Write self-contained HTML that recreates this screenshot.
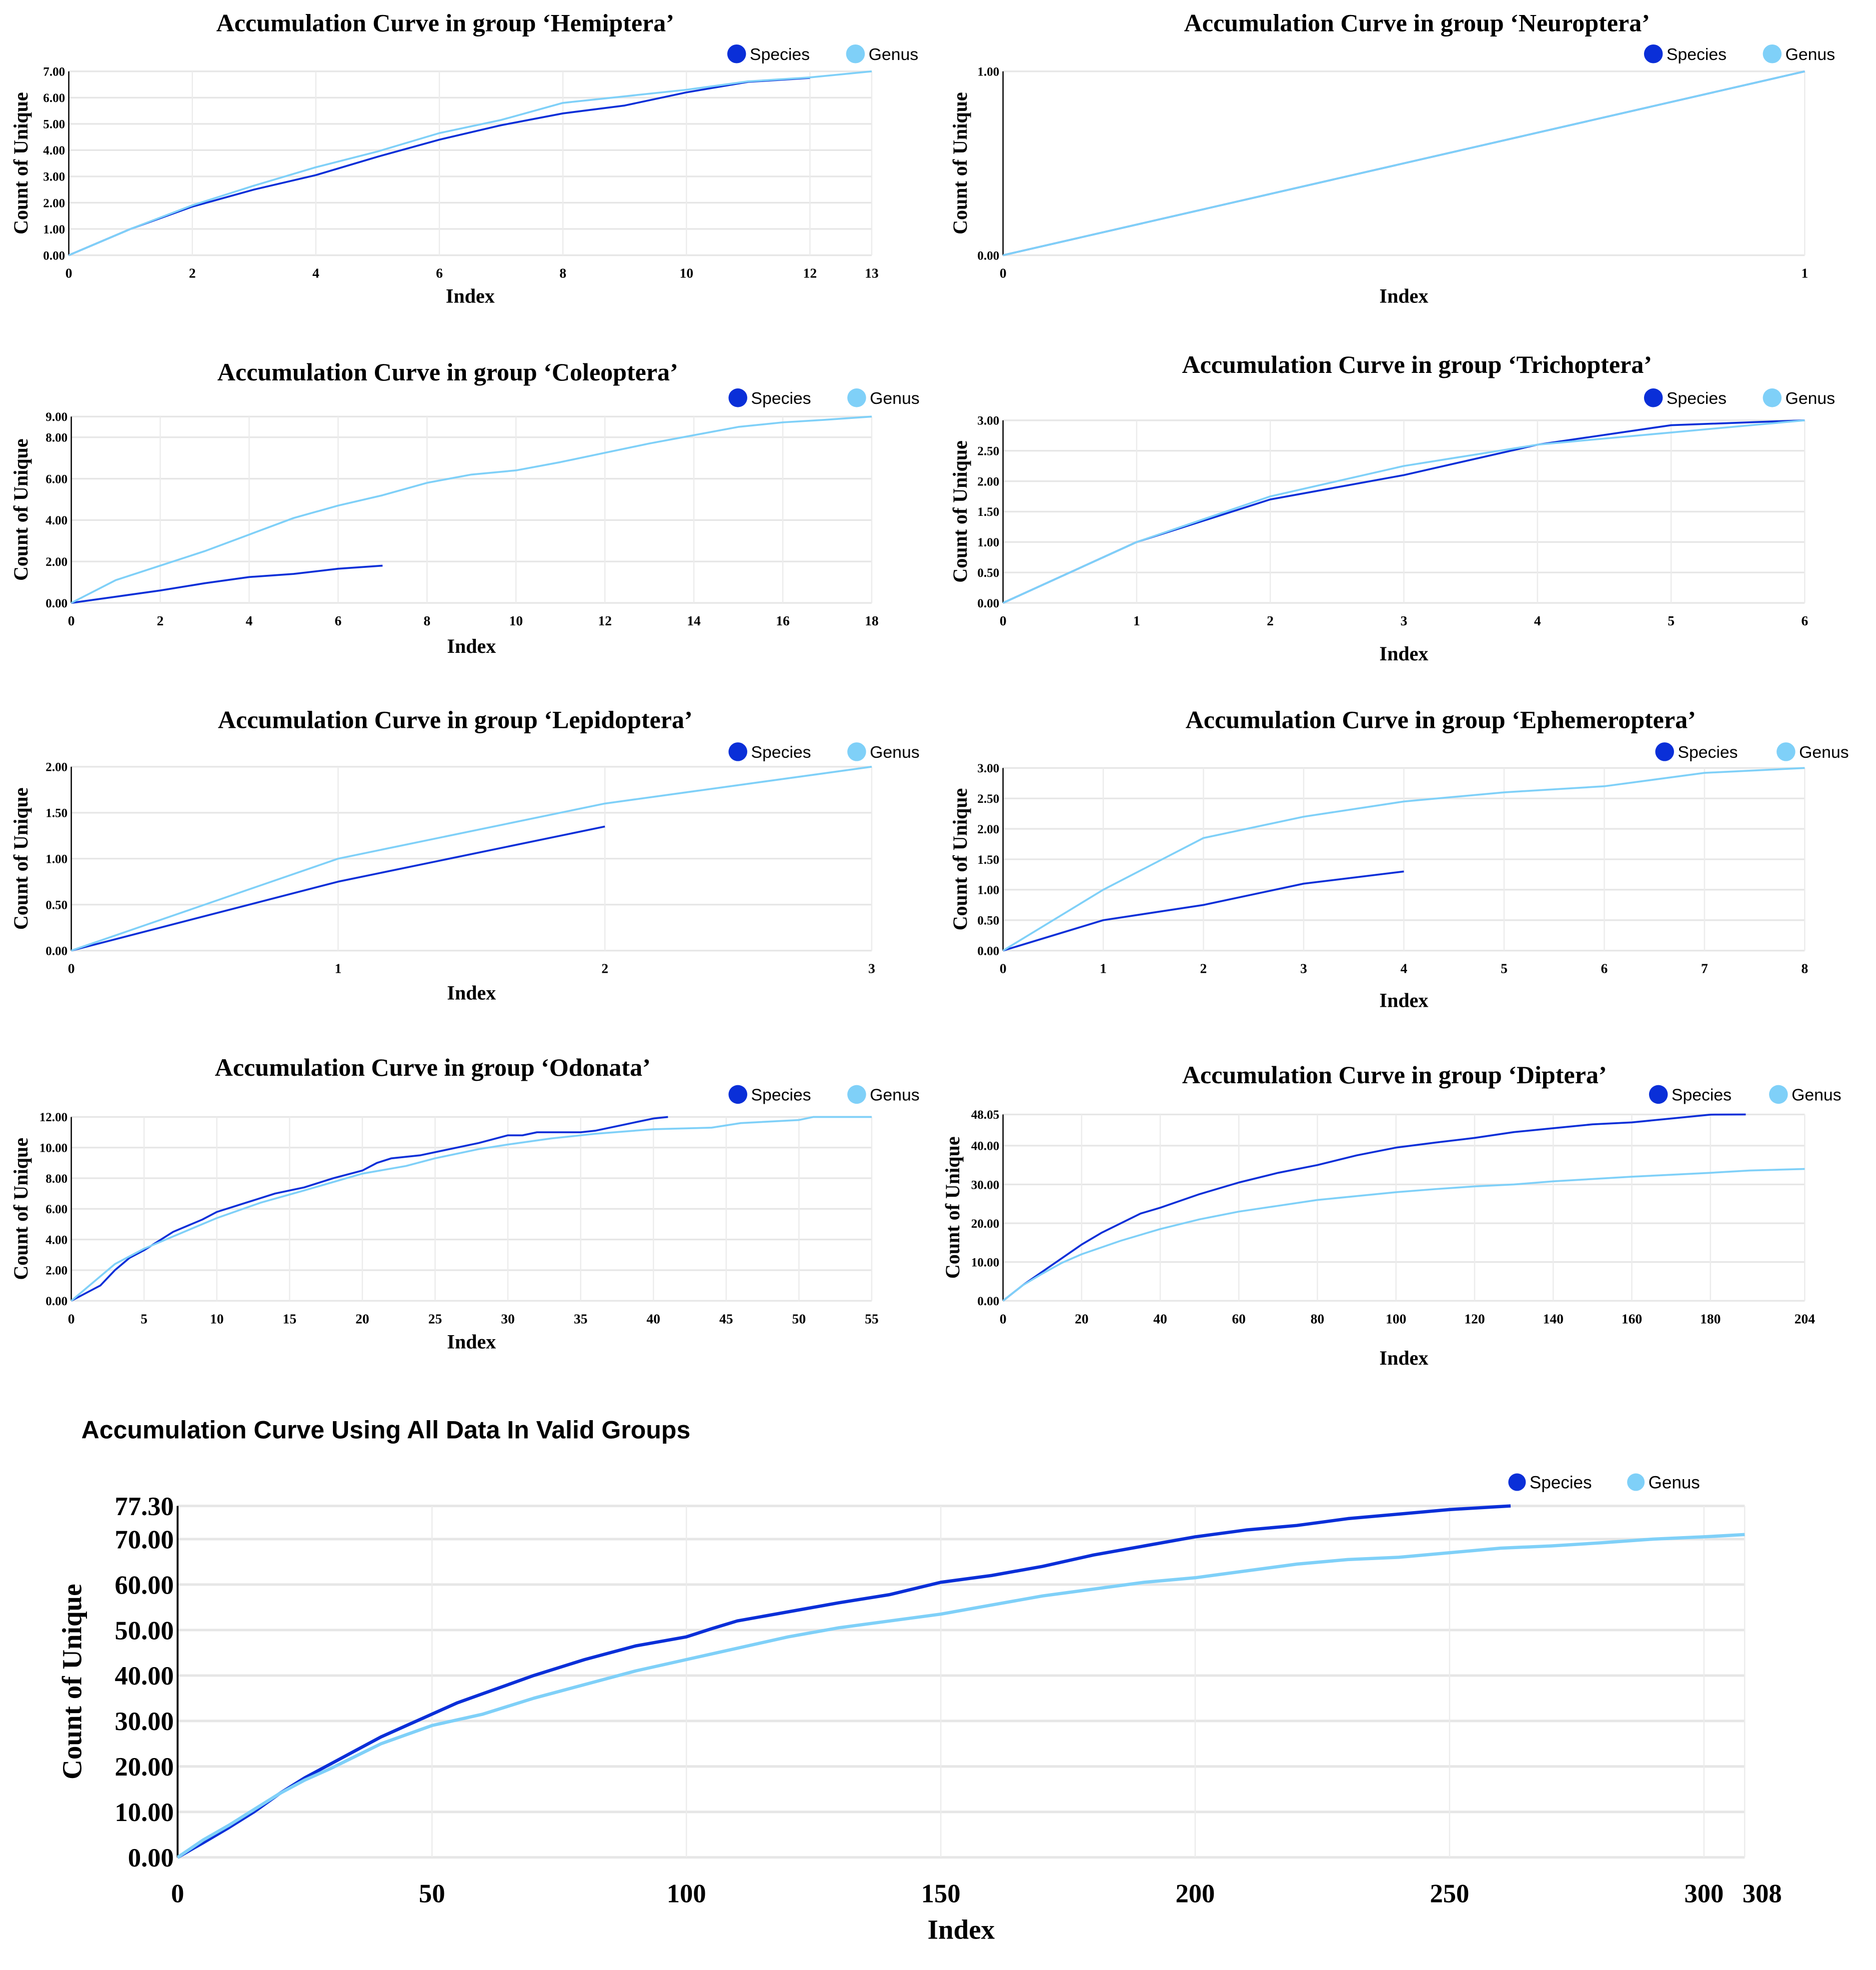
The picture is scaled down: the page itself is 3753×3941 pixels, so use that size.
<!DOCTYPE html>
<html><head><meta charset="utf-8">
<style>
html,body{margin:0;padding:0;background:#fff;}
svg{display:block;}
.t{font-family:"Liberation Serif",serif;font-weight:bold;}
.s{font-family:"Liberation Sans",sans-serif;}
</style></head>
<body>
<svg id="root" width="3753" height="3941" viewBox="0 0 1500 1575" xmlns="http://www.w3.org/2000/svg"></svg>
<script>
// ---- data arrays (index, value pairs) ----
const hemSpecies=[[0,0],[1,1],[2,1.85],[3,2.5],[4,3.05],[5,3.75],[6,4.4],[7,4.95],[8,5.4],[9,5.7],[10,6.2],[11,6.6],[12,6.75]];
const hemGenus=[[0,0],[1,1],[2,1.9],[3,2.65],[4,3.35],[5,3.95],[6,4.65],[7,5.15],[8,5.8],[9,6.05],[10,6.3],[11,6.62],[12,6.77],[13,7]];
const neuSpecies=[[0,0],[1,1]];
const neuGenus=[[0,0],[1,1]];
const colSpecies=[[0,0],[1,0.3],[2,0.6],[3,0.95],[4,1.25],[5,1.4],[6,1.65],[7,1.8]];
const colGenus=[[0,0],[1,1.1],[2,1.8],[3,2.5],[4,3.3],[5,4.1],[6,4.7],[7,5.2],[8,5.8],[9,6.2],[10,6.4],[11,6.8],[12,7.25],[13,7.7],[14,8.1],[15,8.5],[16,8.72],[17,8.85],[18,9]];
const triSpecies=[[0,0],[1,1],[2,1.7],[3,2.1],[4,2.6],[5,2.92],[6,3]];
const triGenus=[[0,0],[1,1],[2,1.75],[3,2.25],[4,2.6],[5,2.8],[6,3]];
const lepSpecies=[[0,0],[1,0.75],[2,1.35]];
const lepGenus=[[0,0],[1,1],[2,1.6],[3,2]];
const ephSpecies=[[0,0],[1,0.5],[2,0.75],[3,1.1],[4,1.3]];
const ephGenus=[[0,0],[1,1],[2,1.85],[3,2.2],[4,2.45],[5,2.6],[6,2.7],[7,2.92],[8,3]];
const odoSpecies=[[0,0],[2,1],[3,2],[4,2.8],[5,3.3],[7,4.5],[9,5.3],[10,5.8],[12,6.4],[14,7],[16,7.4],[18,8],[20,8.5],[21,9],[22,9.3],[24,9.5],[26,9.9],[28,10.3],[30,10.8],[31,10.8],[32,11],[35,11],[36,11.1],[38,11.5],[40,11.9],[41,12]];
const odoGenus=[[0,0],[3,2.4],[5,3.4],[8,4.6],[10,5.4],[13,6.4],[16,7.2],[20,8.3],[23,8.8],[25,9.3],[28,9.9],[30,10.2],[33,10.6],[36,10.9],[40,11.2],[44,11.3],[46,11.6],[50,11.8],[51,12],[55,12]];
const dipSpecies=[[0,0],[5,4],[10,7.5],[15,11],[20,14.5],[25,17.5],[30,20],[35,22.5],[40,24],[50,27.5],[60,30.5],[70,33],[80,35],[90,37.5],[100,39.5],[110,40.8],[120,42],[130,43.5],[140,44.5],[150,45.5],[160,46],[170,47],[180,48],[189,48.05]];
const dipGenus=[[0,0],[5,4],[10,7],[15,9.8],[20,12],[30,15.5],[40,18.5],[50,21],[60,23],[70,24.5],[80,26],[90,27],[100,28],[110,28.8],[120,29.5],[130,30],[140,30.8],[150,31.4],[160,32],[170,32.5],[180,33],[190,33.6],[204,34]];
const allSpecies=[[0,0],[5,3.2],[10,6.5],[15,10],[20,14],[25,17.5],[30,20.5],[35,23.5],[40,26.5],[45,29],[50,31.5],[55,34],[60,36],[65,38],[70,40],[80,43.5],[90,46.5],[100,48.5],[105,50.3],[110,52],[120,54],[130,56],[140,57.8],[150,60.5],[160,62],[170,64],[180,66.5],[190,68.5],[200,70.5],[210,72],[220,73],[230,74.5],[240,75.5],[250,76.5],[262,77.3]];
const allGenus=[[0,0],[5,3.8],[10,7],[15,10.5],[20,14],[25,17],[30,19.5],[40,25],[50,29],[60,31.5],[70,35],[80,38],[90,41],[100,43.5],[110,46],[120,48.5],[130,50.5],[140,52],[150,53.5],[160,55.5],[170,57.5],[180,59],[190,60.5],[200,61.5],[210,63],[220,64.5],[230,65.5],[240,66],[250,67],[260,68],[270,68.5],[280,69.2],[290,70],[300,70.5],[308,71]];

const hemYTicks=[0,1,2,3,4,5,6,7], hemXTicks=[0,2,4,6,8,10,12,13];
const neuYTicks=[0,1], neuXTicks=[0,1];
const colYTicks=[0,2,4,6,8,9], colXTicks=[0,2,4,6,8,10,12,14,16,18];
const triYTicks=[0,0.5,1,1.5,2,2.5,3], triXTicks=[0,1,2,3,4,5,6];
const lepYTicks=[0,0.5,1,1.5,2], lepXTicks=[0,1,2,3];
const ephYTicks=[0,0.5,1,1.5,2,2.5,3], ephXTicks=[0,1,2,3,4,5,6,7,8];
const odoYTicks=[0,2,4,6,8,10,12], odoXTicks=[0,5,10,15,20,25,30,35,40,45,50,55];
const dipYTicks=[0,10,20,30,40,48.05], dipXTicks=[0,20,40,60,80,100,120,140,160,180,204];
const allYTicks=[0,10,20,30,40,50,60,70,77.3], allXTicks=[0,50,100,150,200,250,300,308];

const SP='#0a2fd8', GE='#7fd0f8';
const NS='http://www.w3.org/2000/svg';
const root=document.getElementById('root');
function mk(tag,attrs,parent,text){const e=document.createElementNS(NS,tag);for(const k in attrs)e.setAttribute(k,attrs[k]);if(text!==undefined)e.textContent=text;(parent||root).appendChild(e);return e;}

function panel(o){
  const g=mk('g',{});
  
  
  const xs=v=>o.x0+(v-0)/(o.xmax)*(o.x1-o.x0);
  const ys=v=>o.y1-(v/o.ymax)*(o.y1-o.y0);
  o.yt.forEach(v=>{const l=mk('line',{x1:o.x0,x2:o.x1,y1:ys(v),y2:ys(v),stroke:'#e6e6e6','stroke-width':o.big?2:1.3},g);
    });
  o.xt.forEach(v=>{const l=mk('line',{x1:xs(v),x2:xs(v),y1:o.y0,y2:o.y1,stroke:'#ececec','stroke-width':1},g);
    });
  const ax=mk('line',{x1:o.x0,x2:o.x0,y1:o.y0,y2:o.y1,stroke:'#000','stroke-width':o.big?1.5:1},g);
  
  const fs=o.big?21:10;
  o.yt.forEach(v=>{const t=mk('text',{x:o.x0-3,y:ys(v)+fs*0.35,'text-anchor':'end','font-size':fs,class:'t'},g,v.toFixed(2));
    });
  const xfs=o.big?21:11;
  o.xt.forEach((v,i)=>{let x=xs(v);if(o.big&&i===o.xt.length-1)x+=14;
    const t=mk('text',{x:x,y:o.y1+(o.big?36:18),'text-anchor':'middle','font-size':xfs,class:'t'},g,String(v));
    });
  [[o.sp,SP,'species-line'],[o.ge,GE,'genus-line']].forEach(([d,c,n])=>{
    const p=mk('polyline',{points:d.map(q=>xs(q[0])+','+ys(q[1])).join(' '),fill:'none',stroke:c,'stroke-width':o.big?2.6:1.5,'stroke-linejoin':'round'},g);
    
  });
  const tt=mk('text',{x:o.tx,y:o.ty,'text-anchor':o.big?'start':'middle','font-size':20,class:o.big?'s':'t','font-weight':'bold'},g,o.title);
  
  const xl=mk('text',{x:(o.x0+o.x1)/2,y:o.xly,'text-anchor':'middle','font-size':o.big?22:16,class:'t'},g,'Index');
  
  const yl=mk('text',{x:0,y:0,'text-anchor':'middle','font-size':o.big?22:16,class:'t',transform:'translate('+o.ylx+','+((o.y0+o.y1)/2)+') rotate(-90)'},g,'Count of Unique');
  
  const r=o.big?7:7.5, lf=o.big?14:13.5;
  [[o.lx,SP,'Species'],[o.lx+o.lgap,GE,'Genus']].forEach(([x,c,n])=>{
    const lg=mk('g',{},g);
    mk('circle',{cx:x,cy:o.ly,r:r,fill:c},lg);
    mk('text',{x:x+r+3,y:o.ly+lf*0.36,'font-size':lf,class:'s'},lg,n);
  });
}
const L=[55,697],R=[802,1443];
panel({id:'hemiptera',title:'Accumulation Curve in group \u2018Hemiptera\u2019',x0:L[0],x1:L[1],y0:57,y1:204,xmax:13,ymax:7,yt:hemYTicks,xt:hemXTicks,sp:hemSpecies,ge:hemGenus,tx:356,ty:25,xly:242,ylx:22,lx:589,lgap:95,ly:43});
panel({id:'neuroptera',title:'Accumulation Curve in group \u2018Neuroptera\u2019',x0:R[0],x1:R[1],y0:57,y1:204,xmax:1,ymax:1,yt:neuYTicks,xt:neuXTicks,sp:neuSpecies,ge:neuGenus,tx:1133,ty:25,xly:242,ylx:773,lx:1322,lgap:95,ly:43});
panel({id:'coleoptera',title:'Accumulation Curve in group \u2018Coleoptera\u2019',x0:57,x1:L[1],y0:333,y1:482,xmax:18,ymax:9,yt:colYTicks,xt:colXTicks,sp:colSpecies,ge:colGenus,tx:358,ty:304,xly:522,ylx:22,lx:590,lgap:95,ly:318});
panel({id:'trichoptera',title:'Accumulation Curve in group \u2018Trichoptera\u2019',x0:R[0],x1:R[1],y0:336,y1:482,xmax:6,ymax:3,yt:triYTicks,xt:triXTicks,sp:triSpecies,ge:triGenus,tx:1133,ty:298,xly:528,ylx:773,lx:1322,lgap:95,ly:318});
panel({id:'lepidoptera',title:'Accumulation Curve in group \u2018Lepidoptera\u2019',x0:57,x1:L[1],y0:613,y1:760,xmax:3,ymax:2,yt:lepYTicks,xt:lepXTicks,sp:lepSpecies,ge:lepGenus,tx:364,ty:582,xly:799,ylx:22,lx:590,lgap:95,ly:601});
panel({id:'ephemeroptera',title:'Accumulation Curve in group \u2018Ephemeroptera\u2019',x0:R[0],x1:R[1],y0:614,y1:760,xmax:8,ymax:3,yt:ephYTicks,xt:ephXTicks,sp:ephSpecies,ge:ephGenus,tx:1152,ty:582,xly:805,ylx:773,lx:1331,lgap:97,ly:601});
panel({id:'odonata',title:'Accumulation Curve in group \u2018Odonata\u2019',x0:57,x1:L[1],y0:893,y1:1040,xmax:55,ymax:12,yt:odoYTicks,xt:odoXTicks,sp:odoSpecies,ge:odoGenus,tx:346,ty:860,xly:1078,ylx:22,lx:590,lgap:95,ly:875});
panel({id:'diptera',title:'Accumulation Curve in group \u2018Diptera\u2019',x0:R[0],x1:R[1],y0:891,y1:1040,xmax:204,ymax:48.05,yt:dipYTicks,xt:dipXTicks,sp:dipSpecies,ge:dipGenus,tx:1115,ty:866,xly:1091,ylx:767,lx:1326,lgap:96,ly:875});
panel({id:'all-groups',big:true,title:'Accumulation Curve Using All Data In Valid Groups',x0:142,x1:1395,y0:1204,y1:1485,xmax:308,ymax:77.3,yt:allYTicks,xt:allXTicks,sp:allSpecies,ge:allGenus,tx:65,ty:1150,xly:1550,ylx:65,lx:1213,lgap:95,ly:1185});
</script>
</body></html>
